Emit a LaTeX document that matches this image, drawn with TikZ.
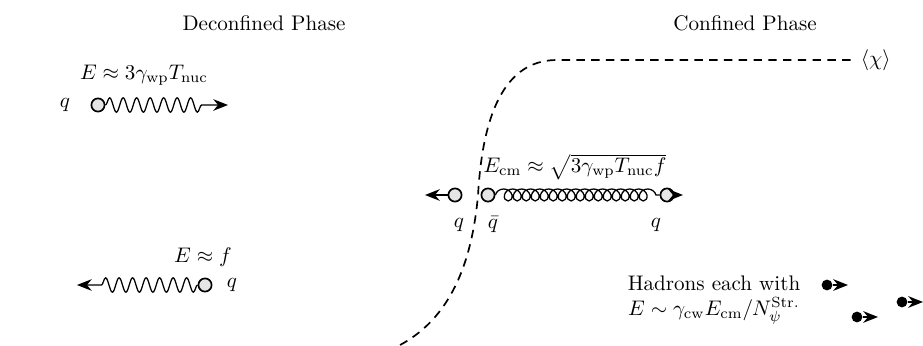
\documentclass[tikz,border=0pt]{standalone}
\usetikzlibrary{arrows.meta,decorations.pathmorphing,positioning}

\begin{document}
\begin{tikzpicture}[
    >={Stealth[length=7pt,width=5.5pt]},
    quark/.style={circle, draw=black, fill=gray!20, inner sep=0pt, minimum size=0.22cm, thick},
    hadron/.style={circle, fill=black, inner sep=0pt, minimum size=0.18cm},
    photon/.style={decorate, decoration={snake, amplitude=0.12cm, segment length=0.225cm, post length=#1}, semithick},
    photon/.default=0.4cm,
    gluon/.style={decorate, decoration={coil, amplitude=0.1cm, aspect=1, segment length=0.15cm}, semithick},
    wall/.style={thick, dash pattern=on 4pt off 3pt},
]
\useasboundingbox (0,0) rectangle (15.383,5.75);

% === Titles ===
\node (tdec) at (4.4,5.367) {Deconfined Phase};
\node (tcon) at (12.417,5.367) {Confined Phase};

% === Bubble wall ===
\draw[wall] (6.667,0) .. controls (7.6,0.5) and (7.88,1.55) .. (7.967,2.5)
    .. controls (8.03,3.6) and (8.3,4.75) .. (9.283,4.75) -- (14.217,4.75)
    node[right] (vev) {$\langle\chi\rangle$};

% === LEFT: Deconfined Phase ===
% Fast quark
\node[quark] (q1) at (1.633,4.0) {};
\node (lq1) at (1.083,4.0) {$q$};
\coordinate (q1t) at (3.8,4.0);
\draw[photon, ->] (q1) -- (q1t);
\node (e1) at (2.4,4.5) {$E\approx 3\gamma_{\rm wp}T_{\rm nuc}$};

% Reflected quark
\node[quark] (q2) at (3.417,1.0) {};
\node (lq2) at (3.867,1.0) {$q$};
\coordinate (q2t) at (1.283,1.0);
\draw[photon=0.3cm, ->] (q2) -- (q2t);
\node (e2) at (3.383,1.467) {$E\approx f$};

% === MIDDLE: String formation ===
\node[quark] (qL) at (7.583,2.5) {};
\coordinate (qLt) at (7.083,2.5);
\draw[->, thick] (qL) -- (qLt);

\node[quark] (qb) at (8.133,2.5) {};
\node[quark] (qR) at (11.117,2.5) {};
\coordinate (qRt) at (11.383,2.5);
\draw[gluon] (qb) -- (qR);
\draw[->, thick] (qR) -- (qRt);

\node (lqL) at (7.65,2.0) {$q$};
\node (lqb) at (8.217,2.0) {$\bar{q}$};
\node (lqR) at (10.933,2.0) {$q$};
\node (ecm) at (9.583,2.967) {$E_{\rm cm}\approx\sqrt{3\gamma_{\rm wp}T_{\rm nuc}f}$};

% === RIGHT: Hadrons ===
\node[align=center] (hadtxt) at (11.9,0.75) {Hadrons each with\\ $E\sim\gamma_{\rm cw}E_{\rm cm}/N_\psi^{\rm Str.}$};
\foreach \n/\x/\y in {a/13.783/1.0, b/15.033/0.717, c/14.283/0.467} {
    \node[hadron] (h\n) at (\x,\y) {};
    \coordinate (h\n t) at (\x+0.35,\y);
    \draw[->, thick] (h\n) -- (h\n t);
}

\end{tikzpicture}
\end{document}
